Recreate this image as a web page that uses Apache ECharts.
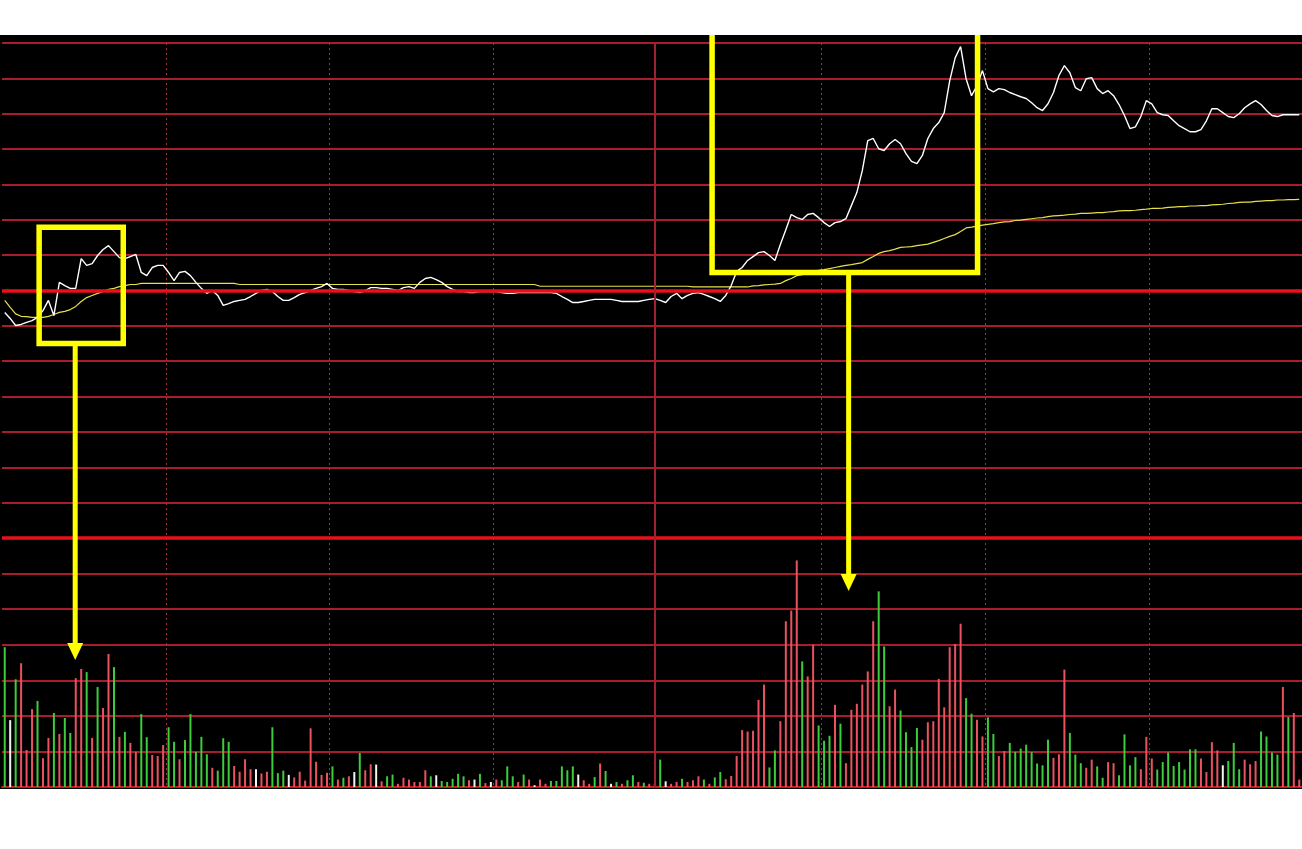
<!DOCTYPE html>
<html>
<head>
<meta charset="utf-8">
<title>分时图</title>
<script src="https://cdn.jsdelivr.net/npm/echarts@6/dist/echarts.min.js"></script>
<style>
    html, body { margin: 0; padding: 0; background: #fff; }
    #main { position: absolute; left: 0; top: 35px; width: 1302px; height: 754px; background: #000; }
</style>
</head>
<body>
<div id="main"></div>
<script>
// 分钟时间轴
var times = [];
for (var i = 0; i < 238; i++) {
    var t = i < 120 ? 570 + i : 780 + (i - 120);
    times.push(Math.floor(t / 60) + ':' + String(t % 60).padStart(2, '0'));
}

// 价格（相对昨收 %）
var price = [
    -0.62, -0.79, -0.99, -0.96, -0.90, -0.85, -0.76, -0.57, -0.28, -0.71,
    0.23, 0.14, 0.06, 0.06, 0.90, 0.71, 0.76, 0.99, 1.16, 1.27,
    1.10, 0.93, 0.90, 0.96, 1.02, 0.51, 0.42, 0.65, 0.71, 0.71,
    0.51, 0.28, 0.51, 0.54, 0.42, 0.23, 0.06, -0.08, 0.00, -0.14,
    -0.42, -0.37, -0.31, -0.28, -0.25, -0.17, -0.08, 0.00, 0.03, -0.03,
    -0.17, -0.28, -0.28, -0.20, -0.11, -0.06, 0.00, 0.06, 0.11, 0.20,
    0.06, 0.03, 0.03, 0.00, -0.03, -0.06, 0.00, 0.08, 0.08, 0.06,
    0.06, 0.03, 0.00, 0.08, 0.11, 0.06, 0.23, 0.34, 0.37, 0.31,
    0.23, 0.11, 0.03, -0.03, -0.03, -0.06, -0.06, -0.03, -0.03, -0.03,
    -0.03, -0.06, -0.08, -0.08, -0.06, -0.06, -0.06, -0.06, -0.06, -0.06,
    -0.06, -0.08, -0.17, -0.25, -0.34, -0.34, -0.31, -0.28, -0.25, -0.25,
    -0.25, -0.25, -0.28, -0.31, -0.31, -0.31, -0.31, -0.28, -0.25, -0.23,
    -0.28, -0.34, -0.17, -0.08, -0.23, -0.14, -0.08, -0.06, -0.11, -0.17,
    -0.23, -0.31, -0.14, 0.14, 0.54, 0.65, 0.85, 0.96, 1.07, 1.10,
    0.99, 0.85, 1.30, 1.72, 2.15, 2.06, 2.01, 2.15, 2.18, 2.06,
    1.92, 1.81, 1.92, 1.95, 2.03, 2.40, 2.77, 3.39, 4.24, 4.30,
    4.01, 3.96, 4.15, 4.27, 4.15, 3.87, 3.65, 3.59, 3.82, 4.30,
    4.58, 4.75, 5.03, 5.93, 6.58, 6.90, 5.99, 5.51, 5.79, 6.22,
    5.71, 5.62, 5.71, 5.68, 5.60, 5.54, 5.48, 5.43, 5.31, 5.17,
    5.09, 5.28, 5.60, 6.08, 6.36, 6.16, 5.74, 5.65, 5.99, 6.02,
    5.71, 5.57, 5.65, 5.51, 5.26, 4.95, 4.58, 4.63, 4.92, 5.37,
    5.28, 5.03, 4.97, 4.95, 4.80, 4.66, 4.58, 4.49, 4.49, 4.55,
    4.80, 5.14, 5.14, 5.03, 4.92, 4.89, 5.00, 5.17, 5.28, 5.37,
    5.26, 5.09, 4.95, 4.92, 4.97, 4.97, 4.97, 4.97
];

// 均价线
var avgPrice = [
    -0.28, -0.48, -0.66, -0.73, -0.74, -0.76, -0.76, -0.76, -0.73, -0.68,
    -0.62, -0.59, -0.54, -0.45, -0.31, -0.20, -0.14, -0.08, -0.03, 0.03,
    0.06, 0.11, 0.14, 0.17, 0.17, 0.20, 0.20, 0.20, 0.20, 0.20,
    0.20, 0.20, 0.20, 0.20, 0.20, 0.20, 0.20, 0.20, 0.20, 0.20,
    0.20, 0.20, 0.20, 0.17, 0.17, 0.17, 0.17, 0.17, 0.17, 0.17,
    0.17, 0.17, 0.17, 0.17, 0.17, 0.17, 0.17, 0.17, 0.17, 0.17,
    0.17, 0.17, 0.17, 0.17, 0.17, 0.17, 0.17, 0.17, 0.17, 0.17,
    0.17, 0.17, 0.17, 0.17, 0.17, 0.17, 0.17, 0.17, 0.17, 0.17,
    0.17, 0.17, 0.17, 0.17, 0.17, 0.17, 0.17, 0.17, 0.17, 0.17,
    0.17, 0.17, 0.17, 0.17, 0.17, 0.17, 0.17, 0.17, 0.12, 0.12,
    0.12, 0.12, 0.12, 0.12, 0.12, 0.12, 0.12, 0.12, 0.12, 0.12,
    0.12, 0.12, 0.12, 0.12, 0.12, 0.12, 0.12, 0.12, 0.12, 0.12,
    0.12, 0.12, 0.12, 0.12, 0.12, 0.12, 0.10, 0.10, 0.10, 0.10,
    0.10, 0.10, 0.10, 0.10, 0.10, 0.10, 0.10, 0.13, 0.14, 0.16,
    0.17, 0.18, 0.20, 0.28, 0.34, 0.42, 0.45, 0.49, 0.54, 0.57,
    0.59, 0.62, 0.65, 0.68, 0.71, 0.73, 0.76, 0.79, 0.88, 0.96,
    1.05, 1.10, 1.13, 1.17, 1.22, 1.23, 1.24, 1.27, 1.29, 1.31,
    1.36, 1.41, 1.47, 1.53, 1.58, 1.67, 1.77, 1.79, 1.82, 1.85,
    1.87, 1.89, 1.92, 1.94, 1.95, 1.98, 1.99, 2.01, 2.03, 2.05,
    2.06, 2.09, 2.11, 2.12, 2.13, 2.15, 2.16, 2.18, 2.18, 2.19,
    2.20, 2.20, 2.22, 2.23, 2.25, 2.26, 2.26, 2.27, 2.29, 2.30,
    2.32, 2.32, 2.33, 2.35, 2.36, 2.37, 2.37, 2.39, 2.39, 2.40,
    2.40, 2.42, 2.43, 2.44, 2.46, 2.47, 2.49, 2.50, 2.50, 2.52,
    2.53, 2.54, 2.54, 2.56, 2.56, 2.57, 2.57, 2.58
];

// 成交量
var volume = [
    393, 188, 303, 348, 104, 219, 242, 81, 138, 208,
    149, 194, 152, 306, 332, 323, 138, 281, 222, 374,
    337, 141, 155, 124, 99, 205, 140, 90, 87, 118,
    168, 127, 78, 132, 205, 99, 141, 92, 54, 46,
    137, 127, 59, 43, 78, 50, 50, 38, 43, 168,
    39, 46, 34, 27, 43, 18, 165, 71, 34, 40,
    58, 21, 26, 30, 42, 96, 47, 64, 63, 16,
    30, 35, 9, 26, 21, 14, 14, 47, 30, 33,
    17, 14, 23, 37, 30, 19, 21, 37, 11, 14,
    21, 19, 58, 30, 14, 35, 21, 5, 21, 9,
    17, 17, 58, 47, 58, 35, 19, 9, 28, 66,
    45, 9, 14, 9, 19, 33, 14, 12, 9, 9,
    77, 16, 9, 14, 23, 14, 19, 30, 21, 9,
    27, 42, 22, 31, 87, 160, 156, 158, 245, 288,
    55, 103, 185, 466, 496, 637, 353, 311, 400, 173,
    130, 144, 231, 178, 67, 217, 234, 288, 325, 466,
    550, 395, 227, 274, 215, 154, 112, 166, 133, 182,
    185, 304, 224, 393, 402, 459, 250, 206, 189, 142,
    196, 149, 87, 101, 124, 99, 108, 119, 98, 66,
    61, 133, 82, 92, 330, 152, 91, 67, 54, 77,
    58, 26, 70, 67, 33, 148, 61, 84, 50, 141,
    80, 49, 70, 97, 59, 70, 49, 106, 106, 80,
    42, 126, 103, 61, 73, 124, 50, 77, 64, 73,
    156, 142, 97, 91, 281, 197, 208, 21
];

// 涨跌方向：1 红(外盘) -1 绿(内盘) 0 白(平)
var direction = [
    -1, 0, -1, 1, 1, 1, -1, 1, 1, -1,
    1, -1, -1, 1, 1, -1, 1, -1, 1, 1,
    -1, 1, -1, 1, 1, -1, -1, 1, 1, 1,
    -1, -1, 1, -1, -1, -1, -1, -1, 1, -1,
    -1, -1, 1, 1, 1, 1, 0, 1, 1, -1,
    -1, -1, 0, 1, 1, 1, 1, 1, 1, 1,
    -1, 1, -1, 1, 0, -1, 1, 1, 0, 1,
    -1, -1, 1, 1, 1, 1, 1, 1, -1, 0,
    -1, -1, -1, -1, -1, 1, 0, -1, 1, 0,
    1, -1, -1, -1, 1, -1, 1, 0, 1, 1,
    -1, -1, -1, -1, -1, 0, 1, 1, -1, 1,
    -1, 0, -1, 1, -1, -1, 1, -1, 1, 1,
    -1, 0, 1, 1, -1, 1, 1, 1, -1, 1,
    -1, -1, 1, 1, 1, 1, 1, 1, 1, 1,
    -1, -1, 1, 1, 1, 1, -1, 1, 1, -1,
    -1, -1, 1, -1, 1, 1, 1, 1, 1, 1,
    -1, -1, 1, 1, -1, -1, -1, -1, 1, 1,
    1, 1, 1, 1, 1, 1, -1, -1, 1, 1,
    -1, -1, 1, 1, -1, -1, -1, -1, -1, -1,
    -1, -1, 1, 1, 1, -1, -1, -1, 1, 1,
    -1, -1, 1, 1, -1, -1, -1, -1, 1, 1,
    1, -1, -1, -1, -1, -1, -1, -1, -1, 1,
    1, 1, 1, 0, -1, -1, -1, 1, 1, 1,
    -1, -1, -1, -1, 1, -1, 1, 1
];

// 标注框：分钟区间、价格上下沿、箭头所在分钟与箭头指向的成交量
var boxes = [
    { from: 6.3, to: 21.7, top: 1.79, bottom: -1.50, arrowAt: 12.9, arrowTo: 357 },
    { from: 129.5, to: 178.1, top: 7.4, bottom: 0.51, arrowAt: 154.5, arrowTo: 551 }
];

var gridColor = '#a81c2c';
var yellow = '#ffff00';

function barColor(d) {
    if (d > 0) return '#ea5260';
    if (d < 0) return '#3ccc3c';
    return '#f4f4f4';
}

var splitX = {
    show: true,
    interval: function (index) { return index > 0 && index % 30 === 0 && index !== 120; },
    lineStyle: { color: '#a0343a', width: 1, type: [2, 3] }
};

var option = {
    animation: false,
    backgroundColor: '#000',
    grid: [
        { left: 2, width: 1304, top: 8, height: 495 },
        { left: 2, width: 1304, top: 503, height: 249 }
    ],
    xAxis: [
        {
            gridIndex: 0, type: 'category', data: times, boundaryGap: true,
            axisLine: { show: false }, axisTick: { show: false }, axisLabel: { show: false },
            splitLine: splitX
        },
        {
            gridIndex: 1, type: 'category', data: times, boundaryGap: true,
            axisLine: { show: true, lineStyle: { color: '#d0141e', width: 2 } },
            axisTick: { show: false }, axisLabel: { show: false },
            splitLine: splitX
        }
    ],
    yAxis: [
        {
            gridIndex: 0, type: 'value', min: -7, max: 7, interval: 1,
            axisLine: { show: false }, axisTick: { show: false }, axisLabel: { show: false },
            splitLine: { lineStyle: { color: gridColor, width: 2 } }
        },
        {
            gridIndex: 1, type: 'value', min: 0, max: 700, interval: 100,
            axisLine: { show: false }, axisTick: { show: false }, axisLabel: { show: false },
            splitLine: { lineStyle: { color: gridColor, width: 2 } }
        }
    ],
    series: [
        {
            name: '均价',
            type: 'line',
            xAxisIndex: 0, yAxisIndex: 0,
            data: avgPrice,
            showSymbol: false,
            z: 2,
            lineStyle: { color: '#e6e04a', width: 1.2 },
            markLine: {
                silent: true, symbol: 'none', label: { show: false },
                lineStyle: { color: '#e8101c', width: 3.5, type: 'solid' },
                data: [
                    { yAxis: 0 },
                    { yAxis: -7 },
                    { xAxis: 119, lineStyle: { color: '#a02232', width: 2, type: 'solid' } }
                ]
            }
        },
        {
            name: '价格',
            type: 'line',
            xAxisIndex: 0, yAxisIndex: 0,
            data: price,
            showSymbol: false,
            z: 3,
            lineStyle: { color: '#ffffff', width: 1.4 }
        },
        {
            name: '成交量',
            type: 'bar',
            xAxisIndex: 1, yAxisIndex: 1,
            barWidth: 2,
            z: 3,
            data: volume.map(function (v, i) {
                return { value: v, itemStyle: { color: barColor(direction[i]) } };
            }),
            markLine: {
                silent: true, symbol: 'none', label: { show: false },
                lineStyle: { color: '#a02232', width: 2, type: 'solid' },
                data: [{ xAxis: 119 }]
            }
        }
    ]
};

var chart = echarts.init(document.getElementById('main'));
chart.setOption(option);

// 标注框与箭头，位置由数据坐标换算
function px(m) {
    var a = chart.convertToPixel({ xAxisIndex: 0 }, 0);
    var b = chart.convertToPixel({ xAxisIndex: 0 }, 1);
    return a + (b - a) * m;
}
function py(v) { return chart.convertToPixel({ yAxisIndex: 0 }, v); }
function vy(v) { return chart.convertToPixel({ yAxisIndex: 1 }, v); }

var graphics = [];
boxes.forEach(function (b) {
    var x0 = px(b.from), x1 = px(b.to), y0 = py(b.top), y1 = py(b.bottom);
    var ax = px(b.arrowAt), tip = vy(b.arrowTo);
    graphics.push({
        type: 'rect', z: 100, silent: true,
        shape: { x: x0, y: y0, width: x1 - x0, height: y1 - y0 },
        style: { fill: 'none', stroke: yellow, lineWidth: 5.5 }
    });
    graphics.push({
        type: 'line', z: 100, silent: true,
        shape: { x1: ax, y1: y1, x2: ax, y2: tip - 14 },
        style: { stroke: yellow, lineWidth: 5 }
    });
    graphics.push({
        type: 'polygon', z: 100, silent: true,
        shape: { points: [[ax - 8, tip - 17], [ax + 8, tip - 17], [ax, tip]] },
        style: { fill: yellow }
    });
});
chart.setOption({ graphic: graphics });
</script>
</body>
</html>
